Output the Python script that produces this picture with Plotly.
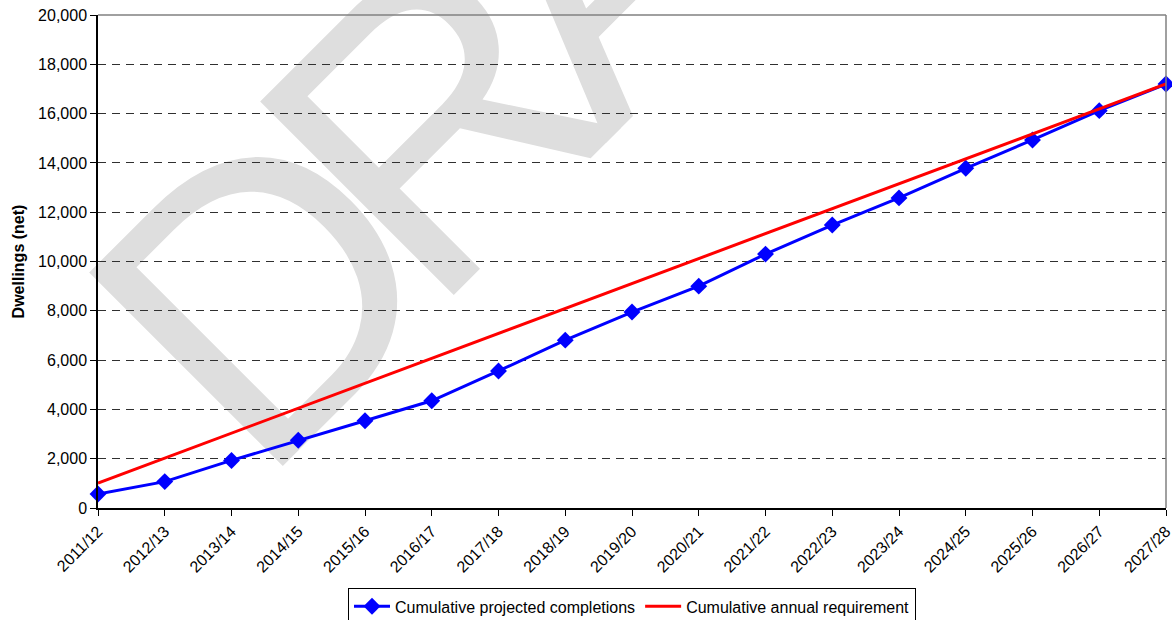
import math
import subprocess
import plotly.graph_objects as go

years = ["2011/12", "2012/13", "2013/14", "2014/15", "2015/16", "2016/17", "2017/18",
         "2018/19", "2019/20", "2020/21", "2021/22", "2022/23", "2023/24", "2024/25",
         "2025/26", "2026/27", "2027/28"]
projected = [570, 1070, 1930, 2750, 3540, 4350, 5560, 6810, 7950, 9000, 10300,
             11480, 12580, 13780, 14930, 16120, 17200]
requirement = [1012, 2024, 3035, 4047, 5059, 6071, 7082, 8094, 9106, 10118, 11129,
               12141, 13153, 14165, 15176, 16188, 17200]

FONT = "Liberation Sans, Arial, sans-serif"

# plot area geometry (pixels)
W, H = 1172, 620
ML, MR, MT, MB = 98, 6, 15, 112
PW, PH = W - ML - MR, H - MT - MB

fig = go.Figure()
fig.add_trace(go.Scatter(
    x=years, y=projected, name="Cumulative projected completions",
    mode="lines+markers", line=dict(color="#0000ff", width=3),
    marker=dict(symbol="diamond", size=13, color="#0000ff"),
    cliponaxis=False,
))
fig.add_trace(go.Scatter(
    x=years, y=requirement, name="Cumulative annual requirement",
    mode="lines", line=dict(color="#ff0000", width=3),
    cliponaxis=False,
))

# ---- DRAFT watermark, one letter at a time (below gridlines) ----
try:
    fonts = subprocess.run(["fc-list"], capture_output=True, text=True).stdout
except Exception:
    fonts = ""
if "Liberation Sans Narrow" in fonts:
    wm_family, wf, wsize = "Liberation Sans Narrow", 0.82, 444
else:
    wm_family, wf, wsize = "Liberation Sans", 1.0, 398

# letter: (advance em, left bearing em)
glyph = {"D": (0.722, 0.077), "R": (0.722, 0.079), "A": (0.667, 0.0),
         "F": (0.611, 0.079), "T": (0.611, 0.022)}
ang = math.radians(45)
u = (math.cos(ang), -math.sin(ang))      # reading direction (screen px)
v = (-math.sin(ang), -math.cos(ang))     # "up" direction of letters
ref_em = 335                              # horizontal em of reference watermark
# baseline-left stem corner of the D in the reference (pixels)
bl = (278.0, 464.0)
origin = (bl[0] - glyph["D"][1] * ref_em * u[0], bl[1] - glyph["D"][1] * ref_em * u[1])
k = 0.43
for ch in "DRAFT":
    adv, lsb = glyph[ch]
    stem = (origin[0] + lsb * ref_em * u[0], origin[1] + lsb * ref_em * u[1])
    my_adv, my_lsb = adv * wf * wsize, lsb * wf * wsize
    cxp = stem[0] + (my_adv / 2 - my_lsb) * u[0] + k * wsize * v[0]
    cyp = stem[1] + (my_adv / 2 - my_lsb) * u[1] + k * wsize * v[1]
    px = (cxp - ML) / PW
    py = (H - MB - cyp) / PH
    fig.add_shape(type="rect", xref="paper", yref="paper",
                  x0=px - 0.002, x1=px + 0.002, y0=py - 0.002, y1=py + 0.002,
                  line=dict(width=0), fillcolor="rgba(0,0,0,0)", layer="below",
                  label=dict(text=ch, textangle=-45, textposition="middle center",
                             font=dict(size=wsize, color="#dedede", family=wm_family)))
    origin = (origin[0] + adv * ref_em * u[0], origin[1] + adv * ref_em * u[1])

# gray top and right border
fig.add_shape(type="line", xref="paper", yref="paper", x0=0, x1=1, y0=1, y1=1,
              line=dict(color="#808080", width=1.5), layer="above")
fig.add_shape(type="line", xref="paper", yref="paper", x0=1, x1=1, y0=0, y1=1,
              line=dict(color="#808080", width=1.5), layer="above")

fig.update_layout(
    width=W, height=H,
    margin=dict(l=ML, r=MR, t=MT, b=MB, autoexpand=False),
    paper_bgcolor="white", plot_bgcolor="white",
    font=dict(family=FONT, size=16, color="black"),
    showlegend=True,
    legend=dict(orientation="h", x=0.5, xanchor="center", y=-0.163, yanchor="top",
                bordercolor="black", borderwidth=1, font=dict(size=16),
                itemwidth=36, tracegroupgap=0, bgcolor="white"),
)
fig.update_xaxes(
    type="category", range=[0, 16], tickangle=-45, automargin=False,
    showline=True, linecolor="black", linewidth=1.5,
    ticks="outside", ticklen=6, tickcolor="black",
    showgrid=False, zeroline=False, tickfont=dict(size=16),
)
fig.update_yaxes(
    range=[0, 20000], dtick=2000, tickformat=",", automargin=False,
    showline=True, linecolor="black", linewidth=1.5,
    ticks="outside", ticklen=6, tickcolor="black",
    showgrid=True, gridcolor="#303030", gridwidth=1, griddash="8px,6px",
    zeroline=False, tickfont=dict(size=16),
    title=dict(text="Dwellings (net)", font=dict(size=16, weight="bold"), standoff=10),
)

fig.write_html("out.html", config={"displayModeBar": False},
               post_script="document.body.style.margin='0px';document.body.style.padding='0px';")
